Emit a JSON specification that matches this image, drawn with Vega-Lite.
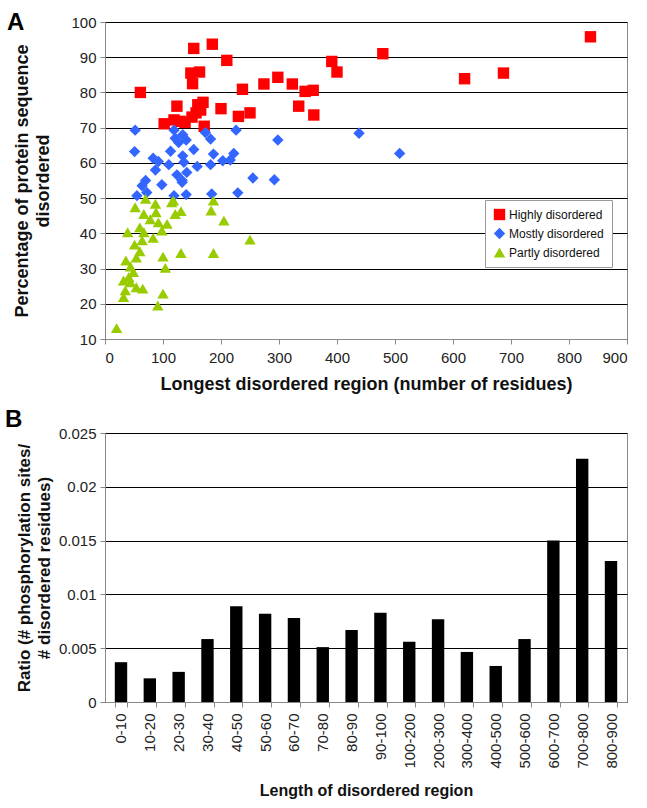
{
  "$schema": "https://vega.github.io/schema/vega-lite/v6.json",
  "background": "white",
  "padding": {"left": 4, "top": 10, "right": 12, "bottom": 5},
  "spacing": 13,
  "config": {
    "font": "Liberation Sans",
    "view": {"stroke": "#888", "strokeWidth": 1},
    "axis": {
      "labelFont": "Liberation Sans",
      "labelFontSize": 15,
      "labelColor": "#222",
      "titleFont": "Liberation Sans",
      "titleFontSize": 18,
      "titleFontWeight": "bold",
      "titleColor": "#111",
      "domainColor": "#888",
      "tickColor": "#888",
      "tickSize": 5,
      "gridColor": "#000",
      "gridOpacity": 1,
      "gridWidth": 1
    },
    "title": {"font": "Liberation Sans", "fontSize": 24, "fontWeight": "bold", "color": "#000"}
  },
  "vconcat": [
    {
      "width": 522,
      "height": 317,
      "title": {"text": "A", "anchor": "start", "frame": "group", "dx": -98, "dy": 20, "offset": 0},
      "data": {
        "values": [
          {"group": "Highly disordered", "x": 61, "y": 80},
          {"group": "Highly disordered", "x": 153, "y": 92.5},
          {"group": "Highly disordered", "x": 185, "y": 93.7},
          {"group": "Highly disordered", "x": 210, "y": 89.1},
          {"group": "Highly disordered", "x": 148, "y": 85.5},
          {"group": "Highly disordered", "x": 163, "y": 85.8},
          {"group": "Highly disordered", "x": 151, "y": 82.5},
          {"group": "Highly disordered", "x": 237, "y": 80.9},
          {"group": "Highly disordered", "x": 274, "y": 82.4},
          {"group": "Highly disordered", "x": 298, "y": 84.3},
          {"group": "Highly disordered", "x": 124, "y": 76.1},
          {"group": "Highly disordered", "x": 169, "y": 77.2},
          {"group": "Highly disordered", "x": 165, "y": 75},
          {"group": "Highly disordered", "x": 200, "y": 75.4},
          {"group": "Highly disordered", "x": 230, "y": 73.2},
          {"group": "Highly disordered", "x": 250, "y": 74.2},
          {"group": "Highly disordered", "x": 102, "y": 71.1},
          {"group": "Highly disordered", "x": 119, "y": 72.2},
          {"group": "Highly disordered", "x": 138, "y": 71.5},
          {"group": "Highly disordered", "x": 150, "y": 73},
          {"group": "Highly disordered", "x": 157, "y": 74.2},
          {"group": "Highly disordered", "x": 171, "y": 70.4},
          {"group": "Highly disordered", "x": 479, "y": 91},
          {"group": "Highly disordered", "x": 391, "y": 88.8},
          {"group": "Highly disordered", "x": 400, "y": 85.8},
          {"group": "Highly disordered", "x": 323, "y": 82.4},
          {"group": "Highly disordered", "x": 345, "y": 80.3},
          {"group": "Highly disordered", "x": 359, "y": 80.6},
          {"group": "Highly disordered", "x": 334, "y": 76.1},
          {"group": "Highly disordered", "x": 360, "y": 73.6},
          {"group": "Highly disordered", "x": 620, "y": 83.9},
          {"group": "Highly disordered", "x": 687, "y": 85.5},
          {"group": "Highly disordered", "x": 837, "y": 95.8},
          {"group": "Highly disordered", "x": 130, "y": 71.8},
          {"group": "Highly disordered", "x": 160, "y": 76.5},
          {"group": "Mostly disordered", "x": 52, "y": 69.3},
          {"group": "Mostly disordered", "x": 119, "y": 69.3},
          {"group": "Mostly disordered", "x": 134, "y": 68},
          {"group": "Mostly disordered", "x": 127, "y": 65.8},
          {"group": "Mostly disordered", "x": 173, "y": 68.6},
          {"group": "Mostly disordered", "x": 182, "y": 66.8},
          {"group": "Mostly disordered", "x": 226, "y": 69.3},
          {"group": "Mostly disordered", "x": 51, "y": 63.2},
          {"group": "Mostly disordered", "x": 113, "y": 63.3},
          {"group": "Mostly disordered", "x": 153, "y": 63.8},
          {"group": "Mostly disordered", "x": 187, "y": 62.5},
          {"group": "Mostly disordered", "x": 134, "y": 62},
          {"group": "Mostly disordered", "x": 83, "y": 61.3},
          {"group": "Mostly disordered", "x": 92, "y": 60.4},
          {"group": "Mostly disordered", "x": 110, "y": 59.5},
          {"group": "Mostly disordered", "x": 136, "y": 60.2},
          {"group": "Mostly disordered", "x": 159, "y": 59},
          {"group": "Mostly disordered", "x": 182, "y": 59.5},
          {"group": "Mostly disordered", "x": 203, "y": 60.6},
          {"group": "Mostly disordered", "x": 216, "y": 60.8},
          {"group": "Mostly disordered", "x": 222, "y": 62.7},
          {"group": "Mostly disordered", "x": 87, "y": 58},
          {"group": "Mostly disordered", "x": 124, "y": 56.6},
          {"group": "Mostly disordered", "x": 141, "y": 57.3},
          {"group": "Mostly disordered", "x": 133, "y": 55},
          {"group": "Mostly disordered", "x": 70, "y": 55},
          {"group": "Mostly disordered", "x": 64, "y": 53.5},
          {"group": "Mostly disordered", "x": 98, "y": 53.8},
          {"group": "Mostly disordered", "x": 133, "y": 54.5},
          {"group": "Mostly disordered", "x": 72, "y": 51.6},
          {"group": "Mostly disordered", "x": 55, "y": 50.7},
          {"group": "Mostly disordered", "x": 119, "y": 50.7},
          {"group": "Mostly disordered", "x": 140, "y": 51},
          {"group": "Mostly disordered", "x": 184, "y": 51.2},
          {"group": "Mostly disordered", "x": 229, "y": 51.5},
          {"group": "Mostly disordered", "x": 255, "y": 55.7},
          {"group": "Mostly disordered", "x": 292, "y": 55.2},
          {"group": "Mostly disordered", "x": 298, "y": 66.5},
          {"group": "Mostly disordered", "x": 438, "y": 68.4},
          {"group": "Mostly disordered", "x": 508, "y": 62.7},
          {"group": "Mostly disordered", "x": 121, "y": 67},
          {"group": "Mostly disordered", "x": 140, "y": 66.5},
          {"group": "Partly disordered", "x": 70, "y": 49.8},
          {"group": "Partly disordered", "x": 52, "y": 47.4},
          {"group": "Partly disordered", "x": 67, "y": 45.5},
          {"group": "Partly disordered", "x": 87, "y": 48.4},
          {"group": "Partly disordered", "x": 88, "y": 46},
          {"group": "Partly disordered", "x": 115, "y": 48.8},
          {"group": "Partly disordered", "x": 121, "y": 45.5},
          {"group": "Partly disordered", "x": 131, "y": 46.3},
          {"group": "Partly disordered", "x": 187, "y": 49.3},
          {"group": "Partly disordered", "x": 183, "y": 46.5},
          {"group": "Partly disordered", "x": 205, "y": 43.6},
          {"group": "Partly disordered", "x": 92, "y": 43.1},
          {"group": "Partly disordered", "x": 107, "y": 42.7},
          {"group": "Partly disordered", "x": 60, "y": 41.7},
          {"group": "Partly disordered", "x": 39, "y": 40.3},
          {"group": "Partly disordered", "x": 67, "y": 40.3},
          {"group": "Partly disordered", "x": 98, "y": 40.8},
          {"group": "Partly disordered", "x": 83, "y": 38.7},
          {"group": "Partly disordered", "x": 64, "y": 38},
          {"group": "Partly disordered", "x": 51, "y": 36.8},
          {"group": "Partly disordered", "x": 60, "y": 34.9},
          {"group": "Partly disordered", "x": 100, "y": 33.4},
          {"group": "Partly disordered", "x": 131, "y": 34.4},
          {"group": "Partly disordered", "x": 187, "y": 34.4},
          {"group": "Partly disordered", "x": 250, "y": 38.2},
          {"group": "Partly disordered", "x": 36, "y": 32.3},
          {"group": "Partly disordered", "x": 54, "y": 33.1},
          {"group": "Partly disordered", "x": 104, "y": 30.2},
          {"group": "Partly disordered", "x": 44, "y": 30.6},
          {"group": "Partly disordered", "x": 49, "y": 29},
          {"group": "Partly disordered", "x": 41, "y": 27.6},
          {"group": "Partly disordered", "x": 32, "y": 26.6},
          {"group": "Partly disordered", "x": 44, "y": 26.1},
          {"group": "Partly disordered", "x": 54, "y": 24.7},
          {"group": "Partly disordered", "x": 65, "y": 24.3},
          {"group": "Partly disordered", "x": 35, "y": 23.8},
          {"group": "Partly disordered", "x": 100, "y": 22.9},
          {"group": "Partly disordered", "x": 32, "y": 21.9},
          {"group": "Partly disordered", "x": 91, "y": 19.5},
          {"group": "Partly disordered", "x": 20, "y": 13.1},
          {"group": "Partly disordered", "x": 118, "y": 49.3},
          {"group": "Partly disordered", "x": 78, "y": 44}
        ]
      },
      "mark": {"type": "point", "filled": true, "opacity": 1},
      "encoding": {
        "x": {
          "field": "x", "type": "quantitative",
          "scale": {"domain": [0, 900], "nice": false},
          "axis": {"values": [0, 100, 200, 300, 400, 500, 600, 700, 800, 900], "grid": false, "title": "Longest disordered region (number of residues)", "titlePadding": 10, "labelPadding": 6}
        },
        "y": {
          "field": "y", "type": "quantitative",
          "scale": {"domain": [10, 100], "nice": false, "zero": false},
          "axis": {"values": [10, 20, 30, 40, 50, 60, 70, 80, 90, 100], "grid": true, "title": ["Percentage of protein sequence", "disordered"], "titlePadding": 18, "titleLineHeight": 21, "labelPadding": 4}
        },
        "size": {
          "field": "group", "type": "nominal",
          "scale": {"domain": ["Highly disordered", "Mostly disordered", "Partly disordered"], "range": [130, 130, 170]},
          "legend": null
        },
        "color": {
          "field": "group", "type": "nominal",
          "scale": {"domain": ["Highly disordered", "Mostly disordered", "Partly disordered"], "range": ["#ff0000", "#3366ff", "#99cc00"]},
          "legend": {"title": null, "orient": "none", "legendX": 380, "legendY": 178, "strokeColor": "#999", "fillColor": "white", "padding": 8, "labelFontSize": 12, "labelFont": "Liberation Sans", "labelColor": "#111", "symbolSize": 80, "rowPadding": 6, "labelOffset": 3}
        },
        "shape": {
          "field": "group", "type": "nominal",
          "scale": {"domain": ["Highly disordered", "Mostly disordered", "Partly disordered"], "range": ["square", "diamond", "triangle-up"]},
          "legend": {"title": null, "orient": "none", "legendX": 380, "legendY": 178, "strokeColor": "#999", "fillColor": "white", "padding": 8, "labelFontSize": 12, "labelFont": "Liberation Sans", "labelColor": "#111", "symbolSize": 80, "rowPadding": 6, "labelOffset": 3}
        }
      }
    },
    {
      "width": 522,
      "height": 269,
      "title": {"text": "B", "anchor": "start", "frame": "group", "dx": -100, "dy": 6, "offset": 0},
      "data": {
        "values": [
          {"range": "0-10", "ratio": 0.0037},
          {"range": "10-20", "ratio": 0.0022},
          {"range": "20-30", "ratio": 0.0028},
          {"range": "30-40", "ratio": 0.00585},
          {"range": "40-50", "ratio": 0.0089},
          {"range": "50-60", "ratio": 0.0082},
          {"range": "60-70", "ratio": 0.0078},
          {"range": "70-80", "ratio": 0.0051},
          {"range": "80-90", "ratio": 0.0067},
          {"range": "90-100", "ratio": 0.0083},
          {"range": "100-200", "ratio": 0.0056},
          {"range": "200-300", "ratio": 0.0077},
          {"range": "300-400", "ratio": 0.00465},
          {"range": "400-500", "ratio": 0.00335},
          {"range": "500-600", "ratio": 0.00585},
          {"range": "600-700", "ratio": 0.015},
          {"range": "700-800", "ratio": 0.0226},
          {"range": "800-900", "ratio": 0.0131}
        ]
      },
      "mark": {"type": "bar", "color": "#000"},
      "encoding": {
        "x": {
          "field": "range", "type": "ordinal", "sort": null,
          "scale": {"paddingInner": 0.57, "paddingOuter": 0.34},
          "axis": {"labelAngle": -90, "tickBand": "extent", "title": "Length of disordered region", "titleFontSize": 16, "titlePadding": 14, "labelPadding": 6}
        },
        "y": {
          "field": "ratio", "type": "quantitative",
          "scale": {"domain": [0, 0.025], "nice": false},
          "axis": {"values": [0, 0.005, 0.01, 0.015, 0.02, 0.025], "format": ".3~f", "grid": true, "title": ["Ratio (# phosphorylation sites/", "# disordered residues)"], "titleFontSize": 17, "titlePadding": 5, "titleLineHeight": 20, "labelPadding": 4}
        }
      }
    }
  ]
}
